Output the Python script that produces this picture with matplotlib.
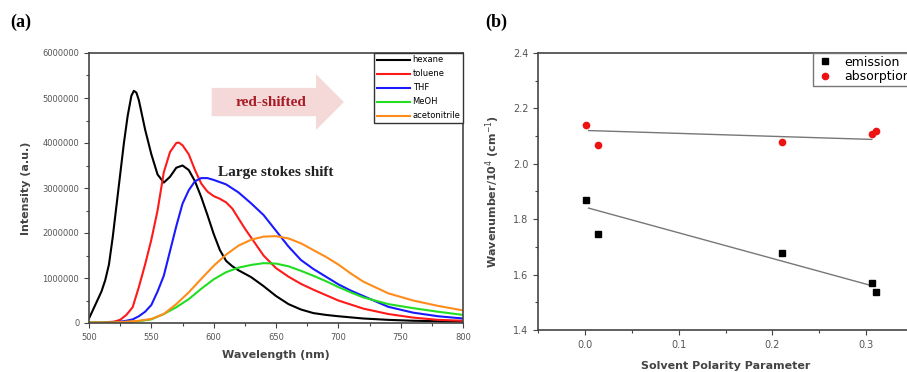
import matplotlib
matplotlib.use("Agg")
import matplotlib.pyplot as plt
from matplotlib.patches import FancyArrow
from matplotlib.ticker import MultipleLocator

# ---- panel (a): emission spectra ----
hex_wl = [500, 505, 510, 513, 516, 519, 522, 525, 528, 531, 534, 536, 538, 540, 545, 550, 555, 560,
          565, 570, 575, 580, 585, 590, 595, 600, 605, 610, 615, 620, 630, 640, 650, 660, 670, 680,
          690, 700, 720, 740, 760, 780, 800]
hex_int = [0.1, 0.4, 0.7, 0.95, 1.3, 1.9, 2.6, 3.3, 4.0, 4.6, 5.05, 5.16, 5.12, 4.95, 4.3, 3.75, 3.3,
           3.12, 3.25, 3.45, 3.5, 3.4, 3.15, 2.8, 2.4, 1.98, 1.62, 1.38, 1.26, 1.17, 1.02, 0.82, 0.6,
           0.42, 0.3, 0.22, 0.18, 0.15, 0.1, 0.07, 0.05, 0.04, 0.03]

tol_wl = [500, 510, 520, 525, 530, 535, 540, 545, 550, 555, 560, 565, 570, 572, 575, 580, 585, 590,
          595, 600, 605, 610, 615, 620, 625, 630, 640, 650, 660, 670, 680, 690, 700, 720, 740, 760,
          780, 800]
tol_int = [0.01, 0.01, 0.03, 0.07, 0.18, 0.35, 0.8, 1.3, 1.85, 2.5, 3.35, 3.8, 4.0, 4.01, 3.95, 3.75,
           3.4, 3.1, 2.92, 2.82, 2.76, 2.68, 2.54, 2.32, 2.1, 1.9, 1.5, 1.22, 1.03, 0.87, 0.74, 0.62,
           0.5, 0.32, 0.2, 0.12, 0.07, 0.05]

thf_wl = [500, 520, 530, 535, 540, 545, 550, 555, 560, 565, 570, 575, 580, 585, 590, 595, 600, 610,
          620, 630, 640, 650, 660, 670, 680, 690, 700, 710, 720, 740, 760, 780, 800]
thf_int = [0.0, 0.01, 0.05, 0.08, 0.15, 0.25, 0.4, 0.7, 1.05, 1.6, 2.15, 2.65, 2.95, 3.15, 3.22, 3.22,
           3.18, 3.08, 2.9, 2.66, 2.4, 2.05, 1.7, 1.4, 1.2, 1.03, 0.86, 0.72, 0.6, 0.36, 0.23, 0.15, 0.1]

meoh_wl = [500, 520, 530, 540, 550, 560, 570, 580, 590, 600, 610, 620, 630, 640, 650, 660, 670, 680,
           690, 700, 710, 720, 740, 760, 780, 800]
meoh_int = [0.01, 0.01, 0.02, 0.04, 0.08, 0.2, 0.35, 0.53, 0.76, 0.97, 1.13, 1.23, 1.29, 1.33, 1.32,
            1.26, 1.16, 1.05, 0.93, 0.8, 0.68, 0.57, 0.42, 0.33, 0.25, 0.18]

acn_wl = [500, 520, 530, 540, 550, 560, 570, 580, 590, 600, 610, 620, 630, 640, 650, 660, 670, 680,
          690, 700, 710, 720, 740, 760, 780, 800]
acn_int = [0.01, 0.01, 0.03, 0.05, 0.09, 0.2, 0.42, 0.68, 0.98, 1.27, 1.52, 1.72, 1.85, 1.92, 1.93,
           1.88, 1.77, 1.62, 1.47, 1.3, 1.1, 0.92, 0.66, 0.5, 0.38, 0.28]

series = [
    ("hexane", hex_wl, hex_int, "black"),
    ("toluene", tol_wl, tol_int, "#ff1a1a"),
    ("THF", thf_wl, thf_int, "#1a1aff"),
    ("MeOH", meoh_wl, meoh_int, "#22dd22"),
    ("acetonitrile", acn_wl, acn_int, "#ff8c1a"),
]

# ---- panel (b): solvatochromism ----
polarity = [0.001, 0.0145, 0.2106, 0.3067, 0.31]
emission = [1.868, 1.748, 1.677, 1.568, 1.538]
absorption = [2.139, 2.069, 2.079, 2.109, 2.118]
fit_x = [0.004, 0.306]
emission_fit = [1.840, 1.560]
absorption_fit = [2.120, 2.088]

tick_col = "#555555"
fig = plt.figure(figsize=(9.07, 3.72), dpi=100)

ax1 = fig.add_axes([89 / 907, 49 / 372, 374 / 907, 270 / 372])
for name, wl, inten, col in series:
    ax1.plot(wl, [v * 1e6 for v in inten], color=col, lw=1.5, label=name)
ax1.set_xlim(500, 800)
ax1.xaxis.set_major_locator(MultipleLocator(50))
ax1.xaxis.set_minor_locator(MultipleLocator(25))
ax1.set_yticks([i * 1e6 for i in range(7)])
ax1.set_yticklabels([str(i * 1000000) for i in range(7)])
ax1.yaxis.set_minor_locator(MultipleLocator(5e5))
ax1.set_ylim(0, 6e6)
ax1.set_xlabel("Wavelength (nm)", fontsize=8, fontweight="bold", color="#444444", labelpad=6)
ax1.set_ylabel("Intensity (a.u.)", fontsize=8, fontweight="bold", color="#444444", labelpad=8)
leg = ax1.legend(loc="upper right", fontsize=6, handlelength=4, handletextpad=0.3,
                 borderaxespad=0, borderpad=0.3, labelspacing=0.6, fancybox=False,
                 edgecolor="#333333", framealpha=1)
leg.get_frame().set_linewidth(1.0)

# pink "red-shifted" arrow
ax1.add_patch(FancyArrow(598.4, 4.91e6, 83.7, 0, width=0.63e6, head_width=1.24e6, head_length=22.4,
                         length_includes_head=False, color="#f5d8d8", lw=0, zorder=1))
ax1.text(646, 4.89e6, "red-shifted", fontsize=11, fontweight="bold", family="Liberation Serif",
         color="#a81c26", ha="center", va="center", zorder=2)
ax1.text(650, 3.35e6, "Large stokes shift", fontsize=11, fontweight="bold",
         family="Liberation Serif", color="#222222", ha="center", va="center")

ax2 = fig.add_axes([538 / 907, 42 / 372, 375 / 907, 277 / 372])
ax2.plot(fit_x, emission_fit, color="#777777", lw=1)
ax2.plot(fit_x, absorption_fit, color="#777777", lw=1)
ax2.plot(polarity, emission, "s", color="black", ms=5, label="emission")
ax2.plot(polarity, absorption, "o", color="#ee1111", ms=4.5, label="absorption")
ax2.set_xlim(-0.05, 0.35)
ax2.set_ylim(1.4, 2.4)
ax2.xaxis.set_major_locator(MultipleLocator(0.1))
ax2.xaxis.set_minor_locator(MultipleLocator(0.05))
ax2.yaxis.set_major_locator(MultipleLocator(0.2))
ax2.yaxis.set_minor_locator(MultipleLocator(0.1))
ax2.set_xlabel("Solvent Polarity Parameter", fontsize=8, fontweight="bold", color="#444444",
               labelpad=8)
ax2.set_ylabel("Wavenumber/10$^4$ (cm$^{-1}$)", fontsize=8, fontweight="bold", color="#444444",
               labelpad=8)
leg2 = ax2.legend(loc="upper right", fontsize=9, handlelength=1.5, borderaxespad=0,
                  borderpad=0.2, labelspacing=0.15, fancybox=False, edgecolor="#777777",
                  framealpha=1)
leg2.get_frame().set_linewidth(1.0)

for ax in (ax1, ax2):
    for sp in ax.spines.values():
        sp.set_color("#444444")
        sp.set_linewidth(1.2)
    ax.tick_params(which="major", direction="out", length=3.5, width=0.8, colors="#444444",
                   labelsize=6, labelcolor=tick_col)
    ax.tick_params(which="minor", direction="out", length=2, width=0.8, colors="#444444")
ax2.tick_params(which="major", labelsize=7)

fig.text(10 / 907, 1 - 22 / 372, "(a)", fontsize=13, fontweight="bold", family="Liberation Serif",
         va="center")
fig.text(485 / 907, 1 - 22 / 372, "(b)", fontsize=13, fontweight="bold", family="Liberation Serif",
         va="center")

fig.savefig("out.png", dpi=100)
